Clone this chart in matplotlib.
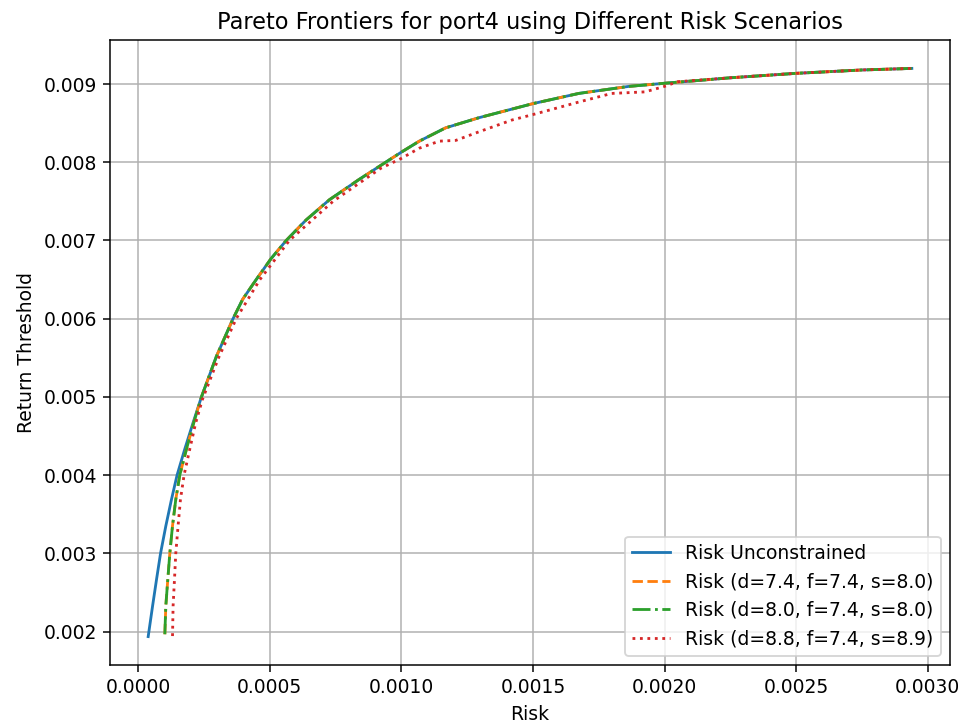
import matplotlib
matplotlib.use("Agg")
import matplotlib.pyplot as plt

# Upper part shared by the frontiers (risk, return)
common_risk = [0.00024, 0.000297, 0.00036, 0.000397, 0.000448, 0.000505, 0.000562, 0.000637,
               0.000726, 0.000839, 0.00094, 0.001, 0.001068, 0.001168, 0.001295, 0.0015,
               0.001674, 0.001864, 0.002, 0.00225, 0.0025, 0.00275, 0.00294]
common_ret = [0.0050, 0.00552, 0.0060, 0.00625, 0.0065, 0.00677, 0.0070, 0.00726,
              0.00752, 0.00778, 0.0080, 0.00813, 0.00827, 0.00844, 0.00857, 0.00875,
              0.00888, 0.00897, 0.00901, 0.00908, 0.009137, 0.00918, 0.0092]

unc_risk = [0.0000375, 0.0000542, 0.0000693, 0.0000845, 0.0001045, 0.0001261, 0.0001473,
            0.0001765, 0.000208] + common_risk
unc_ret = [0.001936, 0.002327, 0.002668, 0.0030, 0.003349, 0.00369, 0.0040,
           0.004332, 0.004669] + common_ret

s1_risk = [0.0001008, 0.0001045, 0.0001121, 0.0001197, 0.0001299, 0.0001424, 0.0001576,
           0.000183, 0.0002106] + common_risk
s1_ret = [0.001966, 0.002327, 0.002668, 0.0030, 0.003349, 0.00369, 0.0040,
          0.004332, 0.004669] + common_ret

s2_risk = list(s1_risk)
s2_ret = list(s1_ret)

s3_risk = [0.00013, 0.0001322, 0.0001375, 0.0001424, 0.0001511, 0.0001602, 0.0001739,
           0.0001955, 0.0002182, 0.0002436, 0.000305, 0.000372, 0.000462, 0.000574,
           0.00074, 0.00092, 0.001, 0.001068, 0.001144, 0.001207, 0.001295, 0.00142,
           0.0015, 0.001674, 0.001799, 0.001926, 0.002, 0.00205, 0.00225, 0.0025,
           0.00275, 0.00294]
s3_ret = [0.001943, 0.002327, 0.002668, 0.0030, 0.003349, 0.00369, 0.0040,
          0.004332, 0.004669, 0.004967, 0.0055, 0.0060, 0.0065, 0.0070,
          0.0075, 0.00792, 0.00805, 0.00818, 0.00827, 0.00828, 0.00839, 0.00854,
          0.00861, 0.00877, 0.00888, 0.0089, 0.00897, 0.00903, 0.00908, 0.009137,
          0.00918, 0.0092]

labels = ["Risk Unconstrained", "Risk (d=7.4, f=7.4, s=8.0)",
          "Risk (d=8.0, f=7.4, s=8.0)", "Risk (d=8.8, f=7.4, s=8.9)"]

DPI = 135
fig = plt.figure(figsize=(967 / DPI, 722 / DPI), dpi=DPI)
ax = fig.add_axes([110 / 967, 1 - 665 / 722, (950 - 110) / 967, (665 - 40) / 722])
ax.plot(unc_risk, unc_ret, '-', label=labels[0])
ax.plot(s1_risk, s1_ret, '--', label=labels[1])
ax.plot(s2_risk, s2_ret, '-.', label=labels[2])
ax.plot(s3_risk, s3_ret, ':', label=labels[3])
ax.set_title("Pareto Frontiers for port4 using Different Risk Scenarios")
ax.set_xlabel("Risk")
ax.set_ylabel("Return Threshold")
ax.grid(True)
ax.legend(loc="lower right")
fig.savefig("out.png", dpi=DPI)
